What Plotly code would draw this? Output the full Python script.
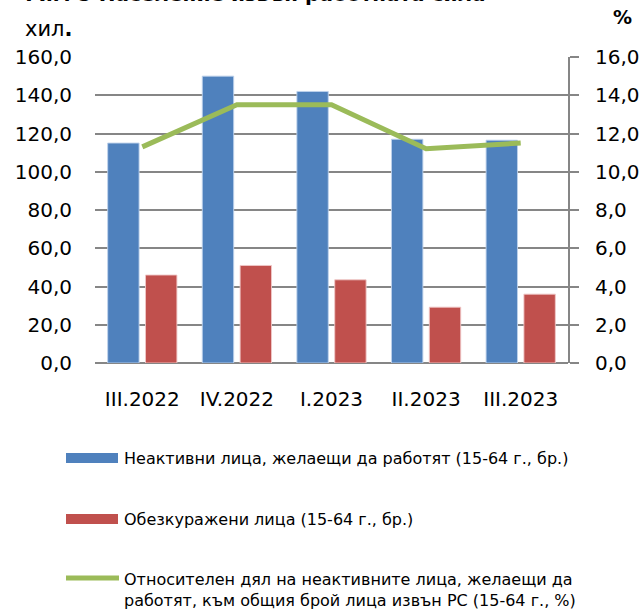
import plotly.graph_objects as go

# ---- data ----
categories = ["III.2022", "IV.2022", "I.2023", "II.2023", "III.2023"]
inactive_want_work = [115.0, 150.0, 142.0, 117.0, 116.5]   # хил.
discouraged = [46.0, 51.0, 43.5, 29.2, 36.0]                # хил.
share_pct = [11.3, 13.5, 13.5, 11.2, 11.5]                   # %
series_names = [
    "Неактивни лица, желаещи да работят (15-64 г., бр.)",
    "Обезкуражени лица (15-64 г., бр.)",
    "Относителен дял на неактивните лица, желаещи да<br>работят, към общия брой лица извън РС (15-64 г., %)",
]
left_ticks = [0, 20, 40, 60, 80, 100, 120, 140, 160]
right_ticks = [0, 2, 4, 6, 8, 10, 12, 14, 16]
title_text = "Фиг. 5 Население извън работната сила"

BLUE = "#4F81BD"
RED = "#C0504D"
GREEN = "#9BBB59"
GRID = "#868686"
FONT = "DejaVu Sans"

W, H = 641, 613
# plot area on the page: x 95..568, y 57..363
ML, MT = 95, 57
MR = W - 568
MB = H - 363
PW, PH = W - ML - MR, H - MT - MB


def px(x):
    return (x - ML) / PW


def py(y):
    return (H - MB - y) / PH


def fmt(v):
    return f"{v:.1f}".replace(".", ",")


fig = go.Figure()
fig.add_trace(go.Bar(x=categories, y=inactive_want_work, name=series_names[0],
                     marker=dict(color=BLUE, line=dict(color="rgba(190,210,235,0.9)", width=1)),
                     yaxis="y"))
fig.add_trace(go.Bar(x=categories, y=discouraged, name=series_names[1],
                     marker=dict(color=RED, line=dict(color="rgba(240,200,200,0.9)", width=1)),
                     yaxis="y"))
fig.add_trace(go.Scatter(x=categories, y=share_pct, name=series_names[2], mode="lines",
                         line=dict(color=GREEN, width=5), yaxis="y2"))

fig.update_layout(
    width=W, height=H,
    margin=dict(l=ML, r=MR, t=MT, b=MB, autoexpand=False),
    paper_bgcolor="white", plot_bgcolor="white",
    showlegend=False,
    barmode="group", bargap=0.2, bargroupgap=0.17,
    font=dict(family=FONT, size=20, color="#000000"),
    xaxis=dict(showgrid=False, showline=False, ticks="", tickfont=dict(size=20),
               ticklabelstandoff=22, automargin=False),
    yaxis=dict(range=[0, 160], tickvals=left_ticks, ticktext=[fmt(v) for v in left_ticks],
               showgrid=True, gridcolor=GRID, gridwidth=2, zeroline=True, zerolinecolor=GRID,
               zerolinewidth=2, showline=False, ticks="", tickfont=dict(size=20),
               ticklabelstandoff=22, automargin=False),
    yaxis2=dict(range=[0, 16], tickvals=right_ticks, ticktext=[fmt(v) for v in right_ticks],
                overlaying="y", side="right", showgrid=False, zeroline=False,
                showline=True, linecolor=GRID, linewidth=2,
                ticks="outside", ticklen=9, tickwidth=2, tickcolor=GRID,
                tickfont=dict(size=20), ticklabelstandoff=12, automargin=False),
)

ann = []
ann.append(dict(text="<b>" + title_text + "</b>", xref="paper", yref="paper",
                x=px(17), y=py(8), xanchor="left", yanchor="bottom",
                showarrow=False, font=dict(size=20, family=FONT)))
ann.append(dict(text="хил<b>.</b>", xref="paper", yref="paper", x=px(23), y=py(29),
                xanchor="left", yanchor="middle", showarrow=False, font=dict(size=21, family=FONT)))
ann.append(dict(text="<b>%</b>", xref="paper", yref="paper", x=px(634), y=py(17),
                xanchor="right", yanchor="middle", showarrow=False, font=dict(size=19, family=FONT)))

# custom legend
leg_rows = [458, 519, 590]
shapes = []
shapes.append(dict(type="rect", xref="paper", yref="paper", x0=px(66), x1=px(118),
                   y0=py(463), y1=py(453), fillcolor=BLUE, line=dict(width=0)))
shapes.append(dict(type="rect", xref="paper", yref="paper", x0=px(66), x1=px(118),
                   y0=py(524), y1=py(514), fillcolor=RED, line=dict(width=0)))
shapes.append(dict(type="line", xref="paper", yref="paper", x0=px(66), x1=px(119),
                   y0=py(578), y1=py(578), line=dict(color=GREEN, width=5)))
for name, yr in zip(series_names, leg_rows):
    ann.append(dict(text=name, xref="paper", yref="paper", x=px(122), y=py(yr),
                    xanchor="left", yanchor="middle", align="left", showarrow=False,
                    font=dict(size=16, family=FONT)))

fig.update_layout(annotations=ann, shapes=shapes)
fig.write_html("out.html", config={"displayModeBar": False},
               post_script="document.body.style.margin='0';")
